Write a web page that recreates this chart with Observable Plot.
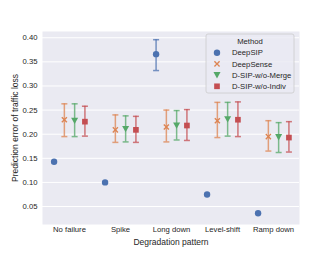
<!DOCTYPE html>
<html><head><meta charset="utf-8">
<script src="https://cdn.jsdelivr.net/npm/d3@7"></script>
<script src="https://cdn.jsdelivr.net/npm/@observablehq/plot@0.6"></script>
<style>html,body{margin:0;padding:0;background:#fff;}</style>
</head><body><div id="chart"></div>
<script>
const categories = ["No failure", "Spike", "Long down", "Level-shift", "Ramp down"];
const methods = ["DeepSIP", "DeepSense", "D-SIP-w/o-Merge", "D-SIP-w/o-Indiv"];
const colors = ["#4C72B0", "#DD8452", "#55A868", "#C44E52"];
const yTicks = [0.05, 0.10, 0.15, 0.20, 0.25, 0.30, 0.35, 0.40];

const deepSIPMean = [0.143, 0.100, 0.366, 0.075, 0.036];
const deepSIPLo   = [null, null, 0.332, null, null];
const deepSIPHi   = [null, null, 0.396, null, null];
const deepSenseMean = [0.230, 0.209, 0.215, 0.228, 0.195];
const deepSenseLo   = [0.195, 0.183, 0.184, 0.193, 0.165];
const deepSenseHi   = [0.263, 0.240, 0.250, 0.266, 0.228];
const mergeMean = [0.228, 0.211, 0.218, 0.231, 0.194];
const mergeLo   = [0.195, 0.184, 0.188, 0.196, 0.162];
const mergeHi   = [0.263, 0.238, 0.249, 0.266, 0.224];
const indivMean = [0.226, 0.209, 0.218, 0.230, 0.193];
const indivLo   = [0.196, 0.183, 0.187, 0.195, 0.163];
const indivHi   = [0.258, 0.237, 0.251, 0.267, 0.226];

const seriesMean = [deepSIPMean, deepSenseMean, mergeMean, indivMean];
const seriesLo = [deepSIPLo, deepSenseLo, mergeLo, indivLo];
const seriesHi = [deepSIPHi, deepSenseHi, mergeHi, indivHi];

// custom marker symbols
const symX = {draw(ctx, size) {
  const r = Math.sqrt(size / Math.PI) * 0.95, w = r * 0.32;
  ctx.moveTo(-r, -r + w); ctx.lineTo(-r + w, -r); ctx.lineTo(0, -w);
  ctx.lineTo(r - w, -r); ctx.lineTo(r, -r + w); ctx.lineTo(w, 0);
  ctx.lineTo(r, r - w); ctx.lineTo(r - w, r); ctx.lineTo(0, w);
  ctx.lineTo(-r + w, r); ctx.lineTo(-r, r - w); ctx.lineTo(-w, 0); ctx.closePath();
}};
const symTriDown = {draw(ctx, size) {
  const r = Math.sqrt(size / Math.PI) * 1.1;
  ctx.moveTo(-r, -r * 0.85); ctx.lineTo(r, -r * 0.85); ctx.lineTo(0, r * 0.95); ctx.closePath();
}};
const symCap = {draw(ctx) { ctx.moveTo(-3, 0); ctx.lineTo(3, 0); }};
const symbols = ["circle", symX, symTriDown, "square"];

const step = 257 / 5;          // band step of the category scale
const dodge = step / 5;
const offsets = [-1.5, -0.5, 0.5, 1.5].map(k => k * dodge);

const marks = [
  Plot.frame({fill: "#EAEAF2"}),
  Plot.ruleY(yTicks, {stroke: "white", strokeWidth: 1}),
  Plot.axisY({ticks: yTicks, tickFormat: ".2f", tickSize: 0, tickPadding: 5, label: null}),
  Plot.axisX({tickSize: 0, tickPadding: 2, label: null}),
  Plot.text(["Degradation pattern"], {frameAnchor: "bottom", dy: 20, fontSize: 8.5, textAnchor: "middle"}),
  Plot.text(["Prediction error of traffic loss"], {frameAnchor: "left", dx: -27, rotate: -90, fontSize: 8.5, textAnchor: "middle"})
];

methods.forEach((m, i) => {
  const rows = categories.map((c, j) => ({cat: c, mean: seriesMean[i][j], lo: seriesLo[i][j], hi: seriesHi[i][j]}));
  const err = rows.filter(d => d.lo != null && d.hi != null);
  marks.push(
    Plot.ruleX(err, {x: "cat", y1: "lo", y2: "hi", dx: offsets[i], stroke: colors[i], strokeOpacity: 0.75, strokeWidth: 1.5}),
    Plot.dot(err, {x: "cat", y: "lo", dx: offsets[i], symbol: symCap, stroke: colors[i], strokeOpacity: 0.75, strokeWidth: 1.5, r: 3}),
    Plot.dot(err, {x: "cat", y: "hi", dx: offsets[i], symbol: symCap, stroke: colors[i], strokeOpacity: 0.75, strokeWidth: 1.5, r: 3}),
    Plot.dot(rows, {x: "cat", y: "mean", dx: offsets[i], symbol: symbols[i], fill: colors[i], r: 3.2})
  );
});

const chart = Plot.plot({
  width: 332, height: 256,
  marginLeft: 42, marginRight: 33, marginTop: 31, marginBottom: 32,
  style: {fontFamily: "'Liberation Sans', Arial, sans-serif", fontSize: "7.7px", color: "#262626", background: "white"},
  x: {type: "point", domain: categories, padding: 0.5},
  y: {domain: [0.0127, 0.413]},
  marks
});
document.getElementById("chart").appendChild(chart);

// legend inside plot, top-right
const svg = d3.select(chart);
const lx = 332 - 33 - 5 - 88, ly = 31 + 3;
const g = svg.append("g").attr("transform", `translate(${lx},${ly})`)
  .attr("font-family", "'Liberation Sans', Arial, sans-serif").attr("font-size", "7.7px")
  .attr("fill", "#262626").attr("text-anchor", "start");
g.append("rect").attr("x", 0).attr("y", 0).attr("width", 88).attr("height", 59).attr("rx", 2)
  .attr("fill", "#EAEAF2").attr("fill-opacity", 0.8).attr("stroke", "#CCCCCC").attr("stroke-width", 0.8);
g.append("text").attr("x", 44).attr("y", 7).attr("dy", "0.35em").attr("text-anchor", "middle").text("Method");
methods.forEach((m, i) => {
  const y = 18.7 + i * 11.2;
  const sym = typeof symbols[i] === "string" ? (symbols[i] === "circle" ? d3.symbolCircle : d3.symbolSquare) : symbols[i];
  g.append("path").attr("transform", `translate(11,${y})`)
    .attr("d", d3.symbol(sym, Math.PI * 3.2 * 3.2)()).attr("fill", colors[i]);
  g.append("text").attr("x", 26).attr("y", y).attr("dy", "0.35em").attr("text-anchor", "start").text(m);
});
</script></body></html>
